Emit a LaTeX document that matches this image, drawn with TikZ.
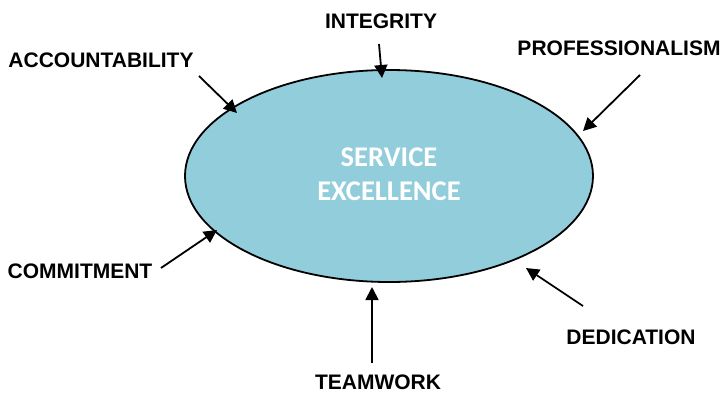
\documentclass[tikz,border=0pt]{standalone}
\usepackage{fontspec}
\setmainfont{Liberation Sans}
\newfontfamily\carlito{Carlito}
\usetikzlibrary{shapes.geometric,arrows.meta}
\definecolor{fillblue}{HTML}{92CDDC}
\tikzset{
  lbl/.style={inner sep=0pt, font=\fontsize{21}{25}\selectfont\bfseries},
  arr/.style={line width=1.8pt, -{Triangle[length=13pt,width=13pt]}},
}
\begin{document}
\begin{tikzpicture}[x=1pt,y=-1pt]
\useasboundingbox (0,0) rectangle (723,394);
\node[ellipse, draw, line width=1.8pt, fill=fillblue, minimum width=408pt, minimum height=212pt, inner sep=0pt] (e) at (389,176) {};
\node[inner sep=0pt, text=white, align=center, font=\carlito\fontsize{28.5}{34.5}\selectfont\bfseries] (c) at (389,174) {SERVICE\\EXCELLENCE};
\node[lbl] (acc) at (101,60) {ACCOUNTABILITY};
\node[lbl] (int) at (381,21) {INTEGRITY};
\node[lbl] (pro) at (619,48) {PROFESSIONALISM};
\node[lbl] (com) at (80,271) {COMMITMENT};
\node[lbl] (tea) at (378,382) {TEAMWORK};
\node[lbl] (ded) at (631,337) {DEDICATION};
\coordinate (accS) at (199,76);  \coordinate (accT) at (237,113);
\coordinate (intS) at (379,44);  \coordinate (intT) at (382,78);
\coordinate (proS) at (640,75);  \coordinate (proT) at (583,131);
\coordinate (comS) at (161,268); \coordinate (comT) at (217,230);
\coordinate (teaS) at (372,363); \coordinate (teaT) at (372,287);
\coordinate (dedS) at (583,306); \coordinate (dedT) at (526,268);
\draw[arr] (accS) -- (accT);
\draw[arr] (intS) -- (intT);
\draw[arr] (proS) -- (proT);
\draw[arr] (comS) -- (comT);
\draw[arr] (teaS) -- (teaT);
\draw[arr] (dedS) -- (dedT);
\end{tikzpicture}
\end{document}
